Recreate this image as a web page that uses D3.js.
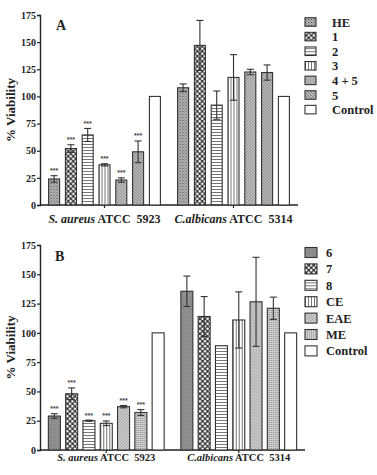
<!DOCTYPE html>
<html>
<head>
<meta charset="utf-8">
<script src="https://cdn.jsdelivr.net/npm/d3@7"></script>
<style>
  body { margin: 0; background: #fff; }
  svg text { font-family: "Liberation Serif", "DejaVu Serif", serif; font-weight: bold; fill: #222; }
</style>
</head>
<body>
<svg id="chart" width="377" height="475"></svg>
<script>
// panel A data
const groups = ['S. aureus', 'C.albicans'];
const seriesA = ['HE', '1', '2', '3', '4 + 5', '5', 'Control'];
const patternsA = ['stipDark', 'checker', 'hlines', 'vlines', 'diag', 'stipMid', 'plain'];
const aureusA = [24, 52, 64.5, 37, 23, 49, 100];
const aureusErrA = [3, 3.5, 6, 1, 2, 10, 0];
const albicansA = [108, 147, 92, 117.5, 122.5, 122, 100];
const albicansErrA = [3.5, 23, 13, 21, 2.5, 7, 0];
const starsA = [true, true, true, true, true, true, false];

// panel B data
const seriesB = ['6', '7', '8', 'CE', 'EAE', 'ME', 'Control'];
const patternsB = ['greySolid', 'checker', 'hlines', 'vlines', 'diagLight', 'stipLight', 'plain'];
const aureusB = [29, 48, 25, 22.8, 37, 32, 100];
const aureusErrB = [2, 5, 0.5, 2, 1, 2.5, 0];
const albicansB = [135.5, 114, 89, 111, 126.5, 121, 100];
const albicansErrB = [13, 17, 0, 24, 38, 9.5, 0];
const starsB = [true, true, true, true, true, true, false];

const yTicks = [0, 25, 50, 75, 100, 125, 150, 175];

const svg = d3.select('#chart');
const defs = svg.append('defs');

// fill patterns
function pat(id, w, h, bg, draw) {
  const p = defs.append('pattern').attr('id', id)
    .attr('patternUnits', 'userSpaceOnUse').attr('width', w).attr('height', h);
  p.append('rect').attr('width', w).attr('height', h).attr('fill', bg);
  if (draw) draw(p);
}
pat('stipDark', 3, 3, '#b8b8b8', p => {
  p.append('rect').attr('x', 0).attr('y', 0).attr('width', 1).attr('height', 1).attr('fill', '#444');
  p.append('rect').attr('x', 1.5).attr('y', 1.5).attr('width', 1).attr('height', 1).attr('fill', '#555');
});
pat('checker', 5, 5, '#3a3a3a', p => {
  p.append('circle').attr('cx', 1.25).attr('cy', 1.25).attr('r', 1.3).attr('fill', '#f4f4f4');
  p.append('circle').attr('cx', 3.75).attr('cy', 3.75).attr('r', 1.3).attr('fill', '#f4f4f4');
});
pat('hlines', 4, 3, '#fff', p => {
  p.append('rect').attr('y', 0).attr('width', 4).attr('height', 1).attr('fill', '#777');
});
pat('vlines', 3, 4, '#fff', p => {
  p.append('rect').attr('x', 0).attr('width', 1).attr('height', 4).attr('fill', '#777');
});
pat('diag', 3, 3, '#c8c8c8', p => {
  p.append('path').attr('d', 'M0,3 L3,0 M-1,1 L1,-1 M2,4 L4,2').attr('stroke', '#666').attr('stroke-width', 0.8);
});
pat('stipMid', 3, 3, '#c0c0c0', p => {
  p.append('path').attr('d', 'M0,0 L3,3 M-1,2 L1,4 M2,-1 L4,1').attr('stroke', '#666').attr('stroke-width', 0.8);
});
pat('greySolid', 4, 4, '#8e8e8e', p => {
  p.append('rect').attr('width', 1).attr('height', 1).attr('fill', '#7a7a7a');
});
pat('diagLight', 3, 3, '#cfcfcf', p => {
  p.append('path').attr('d', 'M0,3 L3,0 M-1,1 L1,-1 M2,4 L4,2').attr('stroke', '#888').attr('stroke-width', 0.7);
});
pat('stipLight', 2, 2, '#d0d0d0', p => {
  p.append('rect').attr('width', 1).attr('height', 1).attr('fill', '#888');
});
pat('plain', 4, 4, '#fff');

function panel(cfg) {
  const y = d3.scaleLinear().domain([0, 175]).range([cfg.y0, cfg.y1]);
  const x = d3.scaleBand().domain(groups).range([cfg.x0, cfg.x1]);
  const inner = d3.scaleBand().domain(cfg.series)
    .range([-cfg.innerW / 2, cfg.innerW / 2]).paddingInner(cfg.pad);

  const g = svg.append('g');

  // y axis
  const yAxis = g.append('g').attr('transform', `translate(${cfg.x0},0)`)
    .call(d3.axisLeft(y).tickValues(yTicks).tickSize(3).tickPadding(1));
  yAxis.selectAll('text').style('font-size', '10px').attr('fill', '#222');
  yAxis.select('.domain').attr('stroke', '#222').attr('stroke-width', 1.4);
  yAxis.selectAll('.tick line').attr('stroke', '#222').attr('stroke-width', 1.2);

  // x axis
  const xAxis = g.append('g').attr('transform', `translate(0,${cfg.y0})`)
    .call(d3.axisBottom(x).tickSize(3).tickFormat(''));
  xAxis.select('.domain').attr('stroke', '#222').attr('stroke-width', 1.4)
    .attr('d', `M${cfg.x0},0H${cfg.x1}`);
  xAxis.selectAll('.tick line').attr('stroke', '#222').attr('stroke-width', 1.2);

  const sets = [
    { grp: groups[0], vals: cfg.aureus, errs: cfg.aureusErr, stars: cfg.stars },
    { grp: groups[1], vals: cfg.albicans, errs: cfg.albicansErr, stars: null }
  ];

  sets.forEach(set => {
    const cx = x(set.grp) + x.bandwidth() / 2;
    const gg = g.append('g').attr('transform', `translate(${cx},0)`);
    const rows = cfg.series.map((s, i) => ({ s, v: set.vals[i], e: set.errs[i], p: cfg.patterns[i], star: set.stars && set.stars[i] }));

    gg.selectAll('rect.bar').data(rows).enter().append('rect')
      .attr('class', 'bar')
      .attr('x', d => inner(d.s))
      .attr('width', inner.bandwidth())
      .attr('y', d => y(d.v))
      .attr('height', d => y(0) - y(d.v))
      .attr('fill', d => `url(#${d.p})`)
      .attr('stroke', '#333').attr('stroke-width', 1.1);

    const eb = gg.selectAll('g.err').data(rows.filter(d => d.e > 0)).enter().append('g')
      .attr('transform', d => `translate(${inner(d.s) + inner.bandwidth() / 2},0)`);
    eb.append('line').attr('y1', d => y(d.v - d.e)).attr('y2', d => y(d.v + d.e))
      .attr('stroke', '#333').attr('stroke-width', 1.1);
    eb.append('line').attr('x1', -3.5).attr('x2', 3.5).attr('y1', d => y(d.v + d.e)).attr('y2', d => y(d.v + d.e))
      .attr('stroke', '#333').attr('stroke-width', 1.1);
    eb.append('line').attr('x1', -3.5).attr('x2', 3.5).attr('y1', d => y(d.v - d.e)).attr('y2', d => y(d.v - d.e))
      .attr('stroke', '#333').attr('stroke-width', 1.1);

    gg.selectAll('text.star').data(rows.filter(d => d.star)).enter().append('text')
      .attr('x', d => inner(d.s) + inner.bandwidth() / 2)
      .attr('y', d => y(d.v + d.e) - 2.5)
      .attr('text-anchor', 'middle')
      .style('font-family', 'Liberation Sans, Arial, sans-serif')
      .style('font-size', '7px')
      .style('fill', '#444')
      .text('***');
  });

  // category labels
  const lab = [
    { grp: groups[0], it: 'S. aureus', rest: ' ATCC  5923' },
    { grp: groups[1], it: 'C.albicans', rest: ' ATCC  5314' }
  ];
  lab.forEach(l => {
    const t = g.append('text')
      .attr('x', x(l.grp) + x.bandwidth() / 2)
      .attr('y', cfg.labelY)
      .attr('text-anchor', 'middle')
      .style('font-size', cfg.labelSize + 'px')
      .style('white-space', 'pre');
    t.append('tspan').style('font-style', 'italic').text(l.it);
    t.append('tspan').text(l.rest);
  });

  // y title
  g.append('text')
    .attr('transform', `translate(${cfg.titleX},${(cfg.y0 + cfg.y1) / 2}) rotate(-90)`)
    .attr('text-anchor', 'middle')
    .style('font-size', '13px')
    .text('% Viability');

  // panel letter
  g.append('text').attr('x', cfg.letterX).attr('y', cfg.letterY)
    .style('font-size', '14px').text(cfg.letter);

  // legend
  const leg = g.append('g');
  const li = leg.selectAll('g').data(cfg.series).enter().append('g')
    .attr('transform', (d, i) => `translate(${cfg.legX},${cfg.legY + i * cfg.legStep})`);
  li.append('rect').attr('x', 0).attr('y', -cfg.swH / 2).attr('width', cfg.swW).attr('height', cfg.swH)
    .attr('fill', (d, i) => `url(#${cfg.patterns[i]})`)
    .attr('stroke', '#333').attr('stroke-width', 1.1);
  li.append('text').attr('x', cfg.legTextX).attr('y', 4.5)
    .style('font-size', '12.5px').text(d => d);
}

panel({
  letter: 'A', letterX: 56, letterY: 30,
  series: seriesA, patterns: patternsA,
  aureus: aureusA, aureusErr: aureusErrA, albicans: albicansA, albicansErr: albicansErrA, stars: starsA,
  y0: 205, y1: 15, x0: 40, x1: 298, innerW: 111.8, pad: 0.345,
  labelY: 223, labelSize: 12, titleX: 15,
  legX: 305, legY: 22, legStep: 14.6, swW: 11, swH: 8.5, legTextX: 27
});

panel({
  letter: 'B', letterX: 55, letterY: 261,
  series: seriesB, patterns: patternsB,
  aureus: aureusB, aureusErr: aureusErrB, albicans: albicansB, albicansErr: albicansErrB, stars: starsB,
  y0: 450, y1: 245, x0: 40, x1: 305, innerW: 115.8, pad: 0.306,
  labelY: 461, labelSize: 10.5, titleX: 15,
  legX: 305, legY: 252.5, legStep: 16.4, swW: 12, swH: 10, legTextX: 21
});
</script>
</body>
</html>
